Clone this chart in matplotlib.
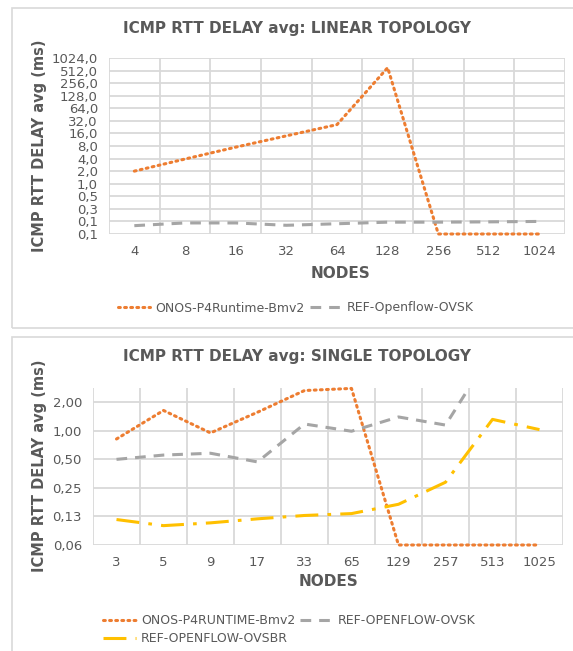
import numpy as np
import matplotlib
matplotlib.use("Agg")
import matplotlib.pyplot as plt
from matplotlib.patches import Rectangle

# ---- data ----
linear_nodes = ['4', '8', '16', '32', '64', '128', '256', '512', '1024']
linear_onos = [2.0, 3.9, 7.5, 14.0, 26.0, 600.0, 0.0625, 0.0625, 0.0625]
linear_ovsk = [0.099, 0.115, 0.115, 0.101, 0.110, 0.120, 0.120, 0.122, 0.125]
linear_yticks = [0.0625, 0.125, 0.25, 0.5, 1, 2, 4, 8, 16, 32, 64, 128, 256, 512, 1024]
linear_ylabels = ['0,1', '0,1', '0,3', '0,5', '1,0', '2,0', '4,0', '8,0', '16,0',
                  '32,0', '64,0', '128,0', '256,0', '512,0', '1024,0']

single_nodes = ['3', '5', '9', '17', '33', '65', '129', '257', '513', '1025']
single_onos = [0.82, 1.64, 0.95, 1.57, 2.66, 2.8, 0.0625, 0.0625, 0.0625, 0.0625]
single_ovsk = [0.5, 0.555, 0.58, 0.47, 1.18, 0.99, 1.40, 1.15, 7.0, 6.0]
single_ovsbr = [0.116, 0.100, 0.107, 0.118, 0.128, 0.134, 0.168, 0.287, 1.32, 1.03]
single_yticks = [0.0625, 0.125, 0.25, 0.5, 1, 2]
single_ylabels = ['0,06', '0,13', '0,25', '0,50', '1,00', '2,00']

ORANGE = '#ED7D31'
GRAY = '#A5A5A5'
YELLOW = '#FFC000'
TXT = '#595959'
GRID = '#D9D9D9'

W, H = 573, 651
fig = plt.figure(figsize=(W / 100, H / 100), dpi=100)


def fx(px):
    return px / W


def fy(py):
    return 1 - py / H


def setup_axes(ax, cats, yticks, ylabels, ylim):
    n = len(cats)
    ax.set_yscale('log', base=2)
    ax.set_ylim(*ylim)
    ax.set_xlim(-0.5, n - 0.5)
    ax.set_xticks(range(n))
    ax.set_xticklabels(cats)
    ax.set_xticks(np.arange(-0.5, n, 1.0), minor=True)
    ax.set_yticks(yticks)
    ax.set_yticklabels(ylabels)
    ax.yaxis.set_minor_locator(matplotlib.ticker.NullLocator())
    ax.grid(True, axis='x', which='minor', color=GRID, lw=1.3)
    ax.grid(True, axis='y', which='major', color=GRID, lw=1.3)
    ax.tick_params(which='both', length=0, colors=TXT, labelsize=9.5)
    ax.tick_params(axis='x', pad=8)
    ax.tick_params(axis='y', pad=8)
    for s in ax.spines.values():
        s.set_visible(False)
    ax.set_axisbelow(True)


# panel frames
fig.add_artist(Rectangle((fx(12), fy(328)), fx(600), 320 / H, transform=fig.transFigure,
                         fill=False, ec=GRID, lw=1.2))
fig.add_artist(Rectangle((fx(12), fy(700)), fx(600), (700 - 337) / H, transform=fig.transFigure,
                         fill=False, ec=GRID, lw=1.2))

# ---- top chart: linear topology ----
ax1 = fig.add_axes([fx(109), fy(234), fx(456), 176 / H])
setup_axes(ax1, linear_nodes, linear_yticks, linear_ylabels, (0.0625, 1024))
x1 = np.arange(len(linear_nodes))
l_onos1, = ax1.plot(x1, linear_onos, color=ORANGE, lw=2.2, ls=(0, (0.6, 1.4)),
                    dash_capstyle='round', clip_on=False)
l_ovsk1, = ax1.plot(x1, linear_ovsk, color=GRAY, lw=2.2, ls=(0, (3.5, 2.6)))

fig.text(fx(297), fy(28), 'ICMP RTT DELAY avg: LINEAR TOPOLOGY', ha='center', va='center',
         fontsize=11, fontweight='bold', color=TXT)
fig.text(fx(40), fy(146), 'ICMP RTT DELAY avg (ms)', ha='center', va='center', rotation=90,
         fontsize=10.5, fontweight='bold', color=TXT)
fig.text(fx(340), fy(273), 'NODES', ha='center', va='center',
         fontsize=11, fontweight='bold', color=TXT)
fig.legend([l_onos1, l_ovsk1], ['ONOS-P4Runtime-Bmv2', 'REF-Openflow-OVSK'],
           loc='center', bbox_to_anchor=(fx(296), fy(308)), ncol=2, frameon=False,
           fontsize=9, labelcolor=TXT, handlelength=2.6, columnspacing=0.4,
           handletextpad=0.4)

# ---- bottom chart: single topology ----
ax2 = fig.add_axes([fx(93), fy(545), fx(470), 157 / H])
setup_axes(ax2, single_nodes, single_yticks, single_ylabels, (0.0625, 2 ** 1.5))
x2 = np.arange(len(single_nodes))
l_onos2, = ax2.plot(x2, single_onos, color=ORANGE, lw=2.2, ls=(0, (0.6, 1.4)),
                    dash_capstyle='round', clip_on=False)
l_ovsk2, = ax2.plot(x2, single_ovsk, color=GRAY, lw=2.2, ls=(0, (3.5, 2.6)))
l_ovsbr2, = ax2.plot(x2, single_ovsbr, color=YELLOW, lw=2.2, ls=(0, (7.5, 3, 1.2, 3)))

fig.text(fx(297), fy(357), 'ICMP RTT DELAY avg: SINGLE TOPOLOGY', ha='center', va='center',
         fontsize=11, fontweight='bold', color=TXT)
fig.text(fx(40), fy(466), 'ICMP RTT DELAY avg (ms)', ha='center', va='center', rotation=90,
         fontsize=10.5, fontweight='bold', color=TXT)
fig.text(fx(329), fy(581), 'NODES', ha='center', va='center',
         fontsize=11, fontweight='bold', color=TXT)
fig.legend([l_onos2, l_ovsbr2, l_ovsk2],
           ['ONOS-P4RUNTIME-Bmv2', 'REF-OPENFLOW-OVSBR', 'REF-OPENFLOW-OVSK'],
           loc='upper left', bbox_to_anchor=(fx(92), fy(603)), ncol=2, frameon=False,
           fontsize=9, labelcolor=TXT, handlelength=2.6, columnspacing=0.4,
           handletextpad=0.4, labelspacing=0.4)

fig.savefig('out.png', dpi=100)
